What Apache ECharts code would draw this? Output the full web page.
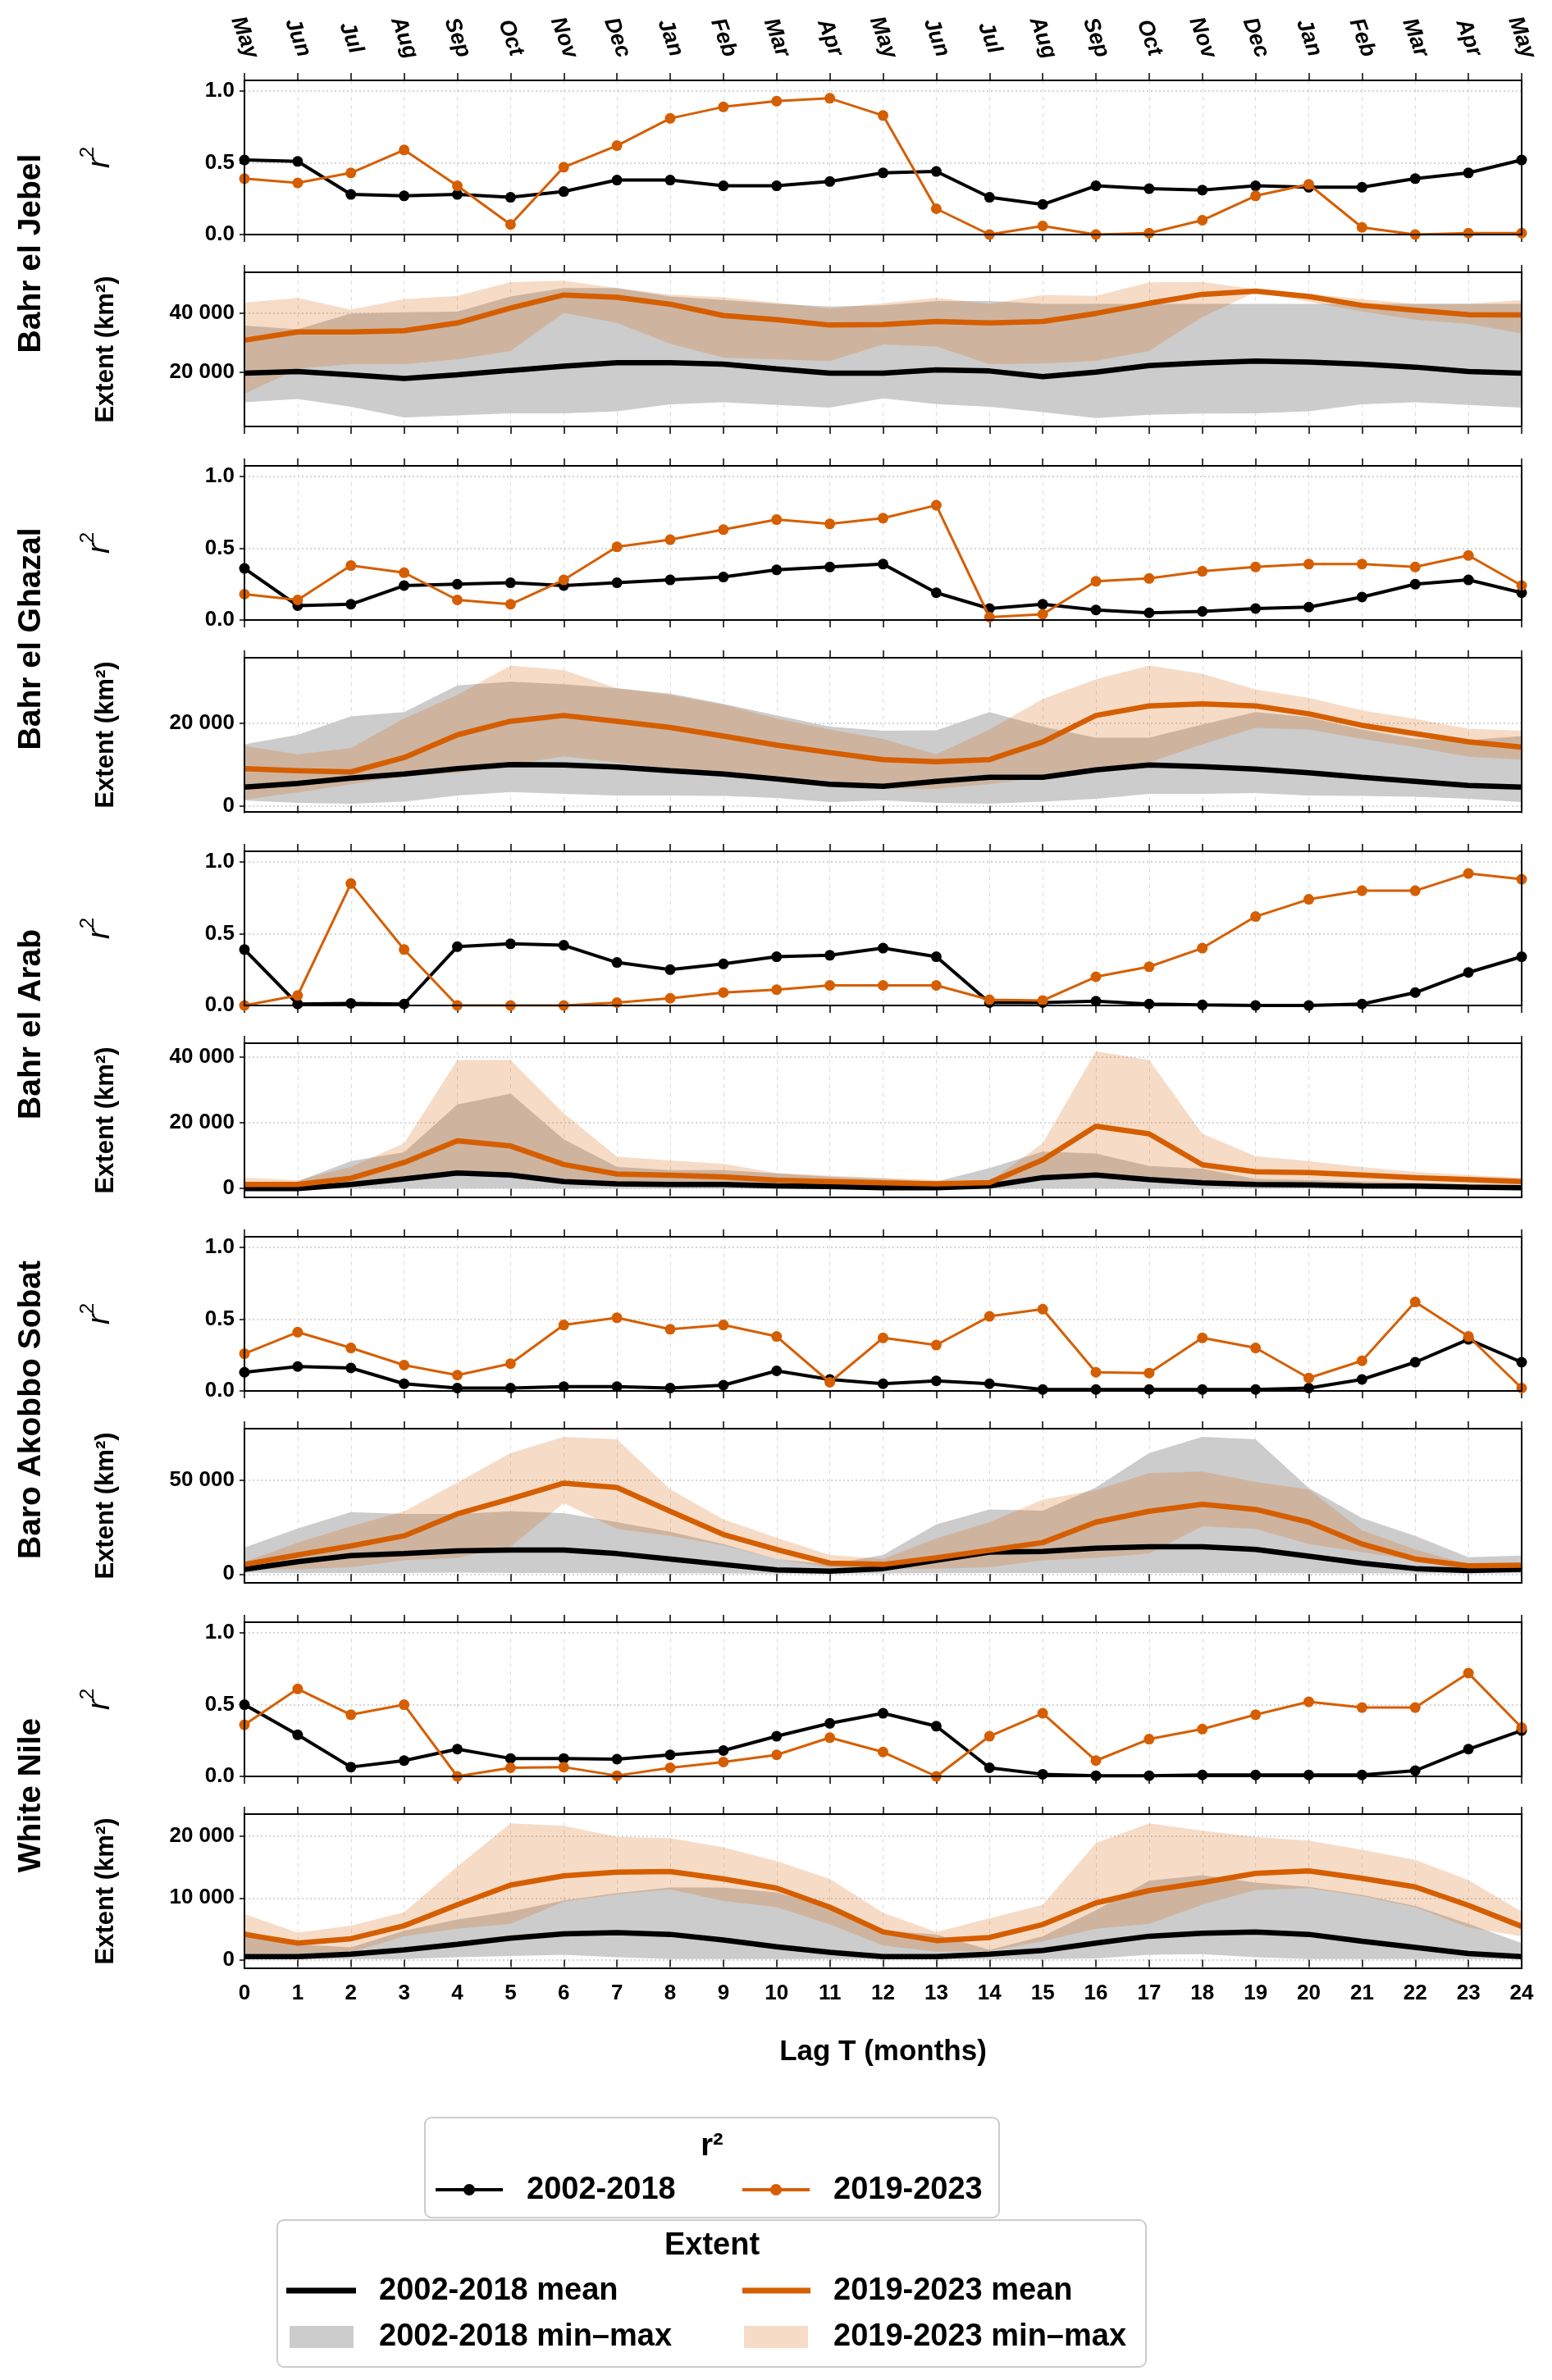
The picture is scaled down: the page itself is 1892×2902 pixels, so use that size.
<!DOCTYPE html>
<html>
<head>
<meta charset="utf-8">
<script src="https://cdn.jsdelivr.net/npm/echarts@6/dist/echarts.min.js"></script>
<style>
  html, body { margin: 0; padding: 0; background: #fff; }
  #chart { width: 1892px; height: 2902px; }
</style>
</head>
<body>
<div id="chart"></div>
<script>
// Lag axis and the calendar month that goes with each lag
const lags = [0,1,2,3,4,5,6,7,8,9,10,11,12,13,14,15,16,17,18,19,20,21,22,23,24];
const months = ['May','Jun','Jul','Aug','Sep','Oct','Nov','Dec','Jan','Feb','Mar','Apr',
  'May','Jun','Jul','Aug','Sep','Oct','Nov','Dec','Jan','Feb','Mar','Apr','May'];

// ---- Bahr el Jebel ----
const jebelR2Past   = [0.52,0.51,0.28,0.27,0.28,0.26,0.30,0.38,0.38,0.34,0.34,0.37,0.43,0.44,0.26,0.21,0.34,0.32,0.31,0.34,0.33,0.33,0.39,0.43,0.52];
const jebelR2Recent = [0.39,0.36,0.43,0.59,0.34,0.07,0.47,0.62,0.81,0.89,0.93,0.95,0.83,0.18,0.00,0.06,0.00,0.01,0.10,0.27,0.35,0.05,0.00,0.01,0.01];
const jebelMeanPast   = [19800,20300,19200,18000,19200,20700,22100,23300,23300,22800,21200,19800,19800,20900,20500,18600,20100,22300,23200,23800,23500,22800,21800,20300,19800];
const jebelMinPast    = [10000,11100,8500,4900,5600,6300,6300,7000,9300,10000,9100,8200,11300,9400,8500,6700,4700,5800,6200,6300,7000,9300,10000,9100,8200];
const jebelMaxPast    = [35700,34500,39800,40200,40400,45500,48300,48300,45500,44300,43000,42100,42500,43900,44000,43000,43000,43000,43000,43000,43000,43000,43000,43000,43000];
const jebelMeanRecent = [30800,33600,33600,34000,36600,41600,46000,45200,42900,39100,37700,35900,36100,37100,36600,37100,39800,43200,46200,47300,45500,42500,40900,39400,39300];
const jebelMinRecent  = [12800,21200,22800,22800,24400,27200,40000,36600,29600,25000,24400,23800,29400,28700,22800,23000,23900,27200,38600,46900,43700,40500,37700,36300,33100];
const jebelMaxRecent  = [43400,45000,41100,44600,45700,50300,50800,48300,46100,45200,43400,41400,43200,45000,43000,46000,45700,50200,50400,47900,46400,44600,43000,43000,44300];

// ---- Bahr el Ghazal ----
const ghazalR2Past   = [0.36,0.10,0.11,0.24,0.25,0.26,0.24,0.26,0.28,0.30,0.35,0.37,0.39,0.19,0.08,0.11,0.07,0.05,0.06,0.08,0.09,0.16,0.25,0.28,0.19];
const ghazalR2Recent = [0.18,0.14,0.38,0.33,0.14,0.11,0.28,0.51,0.56,0.63,0.70,0.67,0.71,0.80,0.02,0.04,0.27,0.29,0.34,0.37,0.39,0.39,0.37,0.45,0.24];
const ghazalMeanPast   = [4500,5400,6700,7700,9000,10000,9900,9400,8500,7700,6500,5200,4700,5900,6900,6900,8700,9900,9500,8900,8000,6900,5900,4900,4500];
const ghazalMinPast    = [1300,700,500,1000,2500,3300,2900,2500,2500,2400,1900,900,1300,700,500,1000,1700,2900,2900,3100,2500,2400,2200,1700,900];
const ghazalMaxPast    = [14900,17200,21700,22700,29200,30100,29500,28500,27200,24700,21900,19200,18200,18300,22700,19200,16500,16500,19700,22700,21500,18500,16200,15900,16900];
const ghazalMeanRecent = [9000,8500,8200,11700,17200,20500,21900,20500,19000,16900,14700,12900,11200,10700,11200,15500,21900,24200,24700,24200,22300,19500,17500,15500,14200];
const ghazalMinRecent  = [1500,3200,5200,7200,7900,9900,12000,10500,8900,8200,7200,6000,4200,4100,5200,6900,8200,10500,14900,18900,18500,16200,14200,11900,11200];
const ghazalMaxRecent  = [14500,12500,14000,21200,26900,34000,32900,28500,26900,24500,21200,18500,16200,12500,18500,25900,30700,34000,32000,28200,26200,23100,21100,18700,18200];

// ---- Bahr el Arab ----
const arabR2Past   = [0.39,0.01,0.015,0.01,0.41,0.43,0.42,0.30,0.25,0.29,0.34,0.35,0.40,0.34,0.02,0.02,0.03,0.01,0.004,0.00,0.00,0.01,0.09,0.23,0.34];
const arabR2Recent = [0.00,0.07,0.85,0.39,0.00,0.00,0.00,0.02,0.05,0.09,0.11,0.14,0.14,0.14,0.04,0.035,0.20,0.27,0.40,0.62,0.74,0.80,0.80,0.92,0.88];
const arabMeanPast   = [0,0,1200,2900,4700,4100,2100,1400,1200,1200,800,600,200,200,800,3300,4100,2700,1700,1200,1100,800,700,400,200];
const arabMinPast    = [0,0,0,0,0,0,0,0,0,0,0,0,0,0,0,0,0,0,0,0,0,0,0,0,0];
const arabMaxPast    = [400,2100,8300,11000,25500,28800,14900,6600,5600,5600,4600,3600,2900,2100,6200,11200,10600,6800,6000,2900,2500,2100,1700,1200,800];
const arabMeanRecent = [1200,1200,3100,7900,14500,12900,7300,4400,4000,3500,2500,2100,1700,1400,1800,8700,18900,16600,7200,5100,4800,4100,3300,2700,2100];
const arabMinRecent  = [400,400,1400,3300,5000,4600,2900,1700,1400,1200,1000,800,700,700,1200,3700,4700,3300,2100,1700,1500,1200,1100,800,700];
const arabMaxRecent  = [3300,2500,6600,13700,39000,39000,22800,9700,8500,7500,4700,3900,3300,2500,2100,13700,41700,39000,16600,9800,8300,6500,5000,4100,3300];

// ---- Baro Akobbo Sobat ----
const sobatR2Past   = [0.13,0.17,0.16,0.05,0.02,0.02,0.03,0.03,0.02,0.04,0.14,0.08,0.05,0.07,0.05,0.01,0.01,0.01,0.01,0.01,0.02,0.08,0.20,0.36,0.20];
const sobatR2Recent = [0.26,0.41,0.30,0.18,0.11,0.19,0.46,0.51,0.43,0.46,0.38,0.06,0.37,0.32,0.52,0.57,0.13,0.125,0.37,0.30,0.09,0.21,0.62,0.38,0.02];
const sobatMeanPast   = [2500,6600,9900,10900,12400,12800,12800,10900,8000,5100,2200,1500,2900,7300,11700,12000,13800,14600,14600,13100,9500,5800,2900,1900,2500];
const sobatMinPast    = [700,500,500,600,800,500,500,400,300,300,200,200,300,400,500,500,600,600,600,500,400,300,300,300,400];
const sobatMaxPast    = [14100,24300,33100,32100,32100,33500,32500,27700,22600,16000,8000,5100,10200,26500,34500,33800,46200,64600,73200,71900,45900,29900,20400,9000,9900];
const sobatMeanRecent = [5100,10200,15000,20400,32100,40100,48500,46200,33500,21100,13100,5800,5100,8700,12700,16800,27700,33500,37200,34500,27700,16000,8000,4400,4700];
const sobatMinRecent  = [2900,2500,3600,7300,8700,14600,37900,24100,20400,15300,8000,3600,2900,2900,3600,7300,8700,10900,25500,24100,16000,11700,7300,1500,1500];
const sobatMaxRecent  = [6500,16800,25500,33500,48800,64600,73200,71900,45200,29200,19400,10200,8000,19000,27700,39700,44800,53900,54700,49100,45200,23300,13100,5000,5200];

// ---- White Nile ----
const nileR2Past   = [0.50,0.29,0.065,0.11,0.19,0.125,0.125,0.12,0.15,0.18,0.28,0.37,0.44,0.35,0.06,0.015,0.005,0.005,0.01,0.01,0.01,0.01,0.04,0.19,0.32];
const nileR2Recent = [0.36,0.61,0.43,0.50,0.00,0.06,0.065,0.005,0.06,0.10,0.15,0.27,0.17,0.00,0.28,0.44,0.11,0.26,0.33,0.43,0.52,0.48,0.48,0.72,0.34];
const nileMeanPast   = [500,500,900,1600,2500,3500,4200,4400,4100,3200,2100,1200,500,500,900,1500,2700,3800,4300,4500,4100,3000,2000,1000,500];
const nileMinPast    = [100,100,100,100,400,600,800,400,100,100,100,100,100,100,100,100,200,800,900,400,100,100,100,100,100];
const nileMaxPast    = [4700,2500,2000,4700,6500,7800,9600,10800,11700,11700,10900,8500,4700,4100,1600,3800,8000,12800,13700,12500,11800,10500,8700,5800,2700];
const nileMeanRecent = [4100,2700,3400,5500,8900,12100,13600,14200,14300,13100,11600,8500,4500,3100,3600,5700,9200,11200,12500,14000,14400,13200,11800,8800,5400];
const nileMinRecent  = [1000,1000,1200,3800,5000,5800,9400,10600,11400,9500,8500,5700,2300,1300,1400,3000,5000,5800,8900,11300,11600,10300,8500,5200,3800];
const nileMaxRecent  = [7400,4400,5500,7700,15100,22100,21700,19900,19700,18200,16000,13100,7600,4500,6700,8900,18900,22100,20900,19900,19300,17800,16200,12900,7800];

// tick values shown on the axes
const r2Ticks = [0, 0.5, 1.0];
const jebelTicks  = [20000, 40000];
const ghazalTicks = [0, 20000];
const arabTicks   = [0, 20000, 40000];
const sobatTicks  = [0, 50000];
const nileTicks   = [0, 10000, 20000];

// ---- layout / styling ----
const BLACK = '#000000';
const ORANGE = '#d55e00';
const GREY_BAND = '#cccccc';
const ORANGE_BAND = 'rgba(213,94,0,0.22)';
const FONT = '"Liberation Sans", Arial, sans-serif';
const PLOT_LEFT = 298, PLOT_WIDTH = 1557, PANEL_H = 188;
const ROW_STEP = 470, R2_TOP = 98, EXT_TOP = 332;

const basins = [
  { name: 'Bahr el Jebel', r2: [jebelR2Past, jebelR2Recent],
    ext: [jebelMeanPast, jebelMinPast, jebelMaxPast, jebelMeanRecent, jebelMinRecent, jebelMaxRecent],
    range: [1900, 53600], ticks: jebelTicks },
  { name: 'Bahr el Ghazal', r2: [ghazalR2Past, ghazalR2Recent],
    ext: [ghazalMeanPast, ghazalMinPast, ghazalMaxPast, ghazalMeanRecent, ghazalMinRecent, ghazalMaxRecent],
    range: [-1500, 35900], ticks: ghazalTicks },
  { name: 'Bahr el Arab', r2: [arabR2Past, arabR2Recent],
    ext: [arabMeanPast, arabMinPast, arabMaxPast, arabMeanRecent, arabMinRecent, arabMaxRecent],
    range: [-2700, 44100], ticks: arabTicks },
  { name: 'Baro Akobbo Sobat', r2: [sobatR2Past, sobatR2Recent],
    ext: [sobatMeanPast, sobatMinPast, sobatMaxPast, sobatMeanRecent, sobatMinRecent, sobatMaxRecent],
    range: [-4700, 77600], ticks: sobatTicks },
  { name: 'White Nile', r2: [nileR2Past, nileR2Recent],
    ext: [nileMeanPast, nileMinPast, nileMaxPast, nileMeanRecent, nileMinRecent, nileMaxRecent],
    range: [-1400, 23600], ticks: nileTicks }
];

function thousands(v) {
  return String(Math.round(v)).replace(/\B(?=(\d{3})+(?!\d))/g, ' ');
}

const grids = [], xAxes = [], yAxes = [], series = [], graphics = [];
const lastPanel = basins.length * 2 - 1;

function addPanel(p, top, yMin, yMax, ticks, fmt) {
  // frame drawn above the series
  grids.push({ left: PLOT_LEFT, width: PLOT_WIDTH, top: top, height: PANEL_H, z: 20,
    show: true, borderColor: BLACK, borderWidth: 2, backgroundColor: 'transparent' });
  const tickStyle = { show: true, interval: 0, length: 9, inside: false,
    lineStyle: { color: BLACK, width: 1.5 } };
  xAxes.push({
    gridIndex: p, type: 'category', data: lags, boundaryGap: false, position: 'bottom',
    axisLine: { show: false }, axisTick: tickStyle,
    axisLabel: { show: p === lastPanel, interval: 0, margin: 18, color: BLACK, fontFamily: FONT,
      fontWeight: 'bold', fontSize: 26 },
    splitLine: { show: true, interval: 0, lineStyle: { type: [5, 5], color: '#dddddd', width: 1 } }
  });
  xAxes.push({
    gridIndex: p, type: 'category', data: lags, boundaryGap: false, position: 'top',
    axisLine: { show: false }, axisTick: tickStyle,
    axisLabel: { show: p === 0, interval: 0, rotate: 70, align: 'center', verticalAlign: 'middle',
      margin: 52, color: BLACK, fontFamily: FONT, fontWeight: 'bold', fontStyle: 'italic',
      fontSize: 27, formatter: (v, i) => months[i] },
    splitLine: { show: false }
  });
  yAxes.push({
    gridIndex: p, type: 'value', min: yMin, max: yMax,
    axisLine: { show: false },
    axisTick: { show: true, length: 6, customValues: ticks, lineStyle: { color: BLACK, width: 1.5 } },
    axisLabel: { customValues: ticks, formatter: fmt, margin: 12, color: BLACK,
      fontFamily: FONT, fontWeight: 'bold', fontSize: 26 },
    splitLine: { show: true, lineStyle: { type: [2, 3], color: '#c8c8c8', width: 1.5 } }
  });
}

function band(p, lower, upper, color, key) {
  series.push({
    type: 'line', xAxisIndex: 2 * p, yAxisIndex: p, stack: key, data: lower,
    symbol: 'none', lineStyle: { width: 0, opacity: 0 }, silent: true, z: 1
  });
  series.push({
    type: 'line', xAxisIndex: 2 * p, yAxisIndex: p, stack: key,
    data: upper.map((v, i) => v - lower[i]),
    symbol: 'none', lineStyle: { width: 0, opacity: 0 }, areaStyle: { color: color, opacity: 1 },
    silent: true, z: 1
  });
}

function sideText(text, x, y, size) {
  graphics.push({
    type: 'text', x: x, y: y, rotation: Math.PI / 2, silent: true,
    style: { text: text, fill: BLACK, font: 'bold ' + size + 'px ' + FONT,
      textAlign: 'center', textVerticalAlign: 'middle' }
  });
}

basins.forEach((b, k) => {
  const pR = 2 * k, pE = 2 * k + 1;
  const rTop = R2_TOP + ROW_STEP * k, eTop = EXT_TOP + ROW_STEP * k;

  // r² panel
  addPanel(pR, rTop, 0, 1.075, r2Ticks, v => v.toFixed(1));
  series.push({
    type: 'line', xAxisIndex: 2 * pR, yAxisIndex: pR, data: b.r2[0],
    symbol: 'circle', symbolSize: 13, itemStyle: { color: BLACK },
    lineStyle: { color: BLACK, width: 4 }, z: 3
  });
  series.push({
    type: 'line', xAxisIndex: 2 * pR, yAxisIndex: pR, data: b.r2[1],
    symbol: 'circle', symbolSize: 13, itemStyle: { color: ORANGE },
    lineStyle: { color: ORANGE, width: 3 }, z: 4
  });

  // extent panel
  addPanel(pE, eTop, b.range[0], b.range[1], b.ticks, v => thousands(v));
  const [meanP, minP, maxP, meanR, minR, maxR] = b.ext;
  band(pE, minP, maxP, GREY_BAND, 'grey' + k);
  band(pE, minR, maxR, ORANGE_BAND, 'orange' + k);
  series.push({
    type: 'line', xAxisIndex: 2 * pE, yAxisIndex: pE, data: meanP,
    symbol: 'none', lineStyle: { color: BLACK, width: 6.5 }, z: 3
  });
  series.push({
    type: 'line', xAxisIndex: 2 * pE, yAxisIndex: pE, data: meanR,
    symbol: 'none', lineStyle: { color: ORANGE, width: 6.5 }, z: 4
  });

  // side labels
  sideText(b.name, 38, (rTop + eTop + PANEL_H) / 2, 39);
  sideText('Extent (km²)', 129, eTop + PANEL_H / 2, 31);
  graphics.push({
    type: 'text', x: 118, y: rTop + PANEL_H / 2, rotation: Math.PI / 2, silent: true,
    style: {
      text: '{r|r}{s|2}', textAlign: 'center', textVerticalAlign: 'middle',
      rich: {
        r: { fontFamily: FONT, fontStyle: 'italic', fontSize: 38, fill: BLACK,
          verticalAlign: 'bottom', lineHeight: 46 },
        s: { fontFamily: FONT, fontSize: 24, fill: BLACK, verticalAlign: 'top', lineHeight: 46 }
      }
    }
  });
});

// x-axis title
graphics.push({
  type: 'text', x: PLOT_LEFT + PLOT_WIDTH / 2, y: 2502, silent: true,
  style: { text: 'Lag T (months)', fill: BLACK, font: 'bold 35px ' + FONT,
    textAlign: 'center', textVerticalAlign: 'middle' }
});

// ---- legends ----
function legendText(text, x, y, align) {
  graphics.push({
    type: 'text', x: x, y: y, silent: true,
    style: { text: text, fill: BLACK, font: 'bold 38px ' + FONT,
      textAlign: align || 'left', textVerticalAlign: 'middle' }
  });
}
function legendLine(x1, x2, y, color, width) {
  graphics.push({ type: 'line', silent: true, shape: { x1: x1, y1: y, x2: x2, y2: y },
    style: { stroke: color, lineWidth: width } });
}
function legendBox(x, y, w, h) {
  graphics.push({ type: 'rect', silent: true, shape: { x: x, y: y, width: w, height: h, r: 8 },
    style: { fill: '#ffffff', stroke: '#cccccc', lineWidth: 2 } });
}

legendBox(518, 2582, 700, 122);
legendText('r²', 868, 2618, 'center');
legendLine(531, 613, 2670, BLACK, 4);
graphics.push({ type: 'circle', silent: true, shape: { cx: 572, cy: 2670, r: 7 }, style: { fill: BLACK } });
legendText('2002-2018', 642, 2671);
legendLine(905, 987, 2670, ORANGE, 4);
graphics.push({ type: 'circle', silent: true, shape: { cx: 946, cy: 2670, r: 7 }, style: { fill: ORANGE } });
legendText('2019-2023', 1016, 2671);

legendBox(338, 2707, 1059, 179);
legendText('Extent', 868, 2739, 'center');
legendLine(349, 434, 2793, BLACK, 7);
legendText('2002-2018 mean', 462, 2794);
legendLine(905, 988, 2793, ORANGE, 7);
legendText('2019-2023 mean', 1016, 2794);
graphics.push({ type: 'rect', silent: true, shape: { x: 353, y: 2836, width: 78, height: 27 },
  style: { fill: GREY_BAND } });
legendText('2002-2018 min–max', 462, 2850);
graphics.push({ type: 'rect', silent: true, shape: { x: 907, y: 2836, width: 78, height: 27 },
  style: { fill: ORANGE_BAND } });
legendText('2019-2023 min–max', 1016, 2850);

const chart = echarts.init(document.getElementById('chart'), null, { width: 1892, height: 2902 });
chart.setOption({
  animation: false,
  backgroundColor: '#ffffff',
  grid: grids,
  xAxis: xAxes,
  yAxis: yAxes,
  series: series,
  graphic: graphics
});
</script>
</body>
</html>
